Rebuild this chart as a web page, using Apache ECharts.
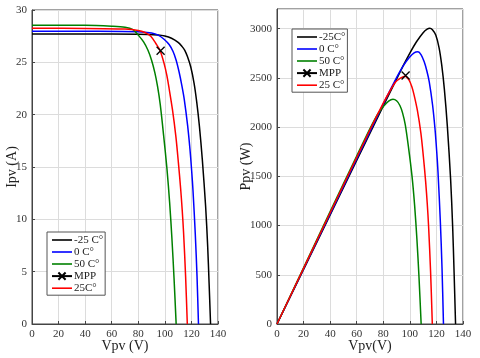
<!DOCTYPE html>
<html>
<head>
<meta charset="utf-8">
<script src="https://cdn.jsdelivr.net/npm/echarts@6/dist/echarts.min.js"></script>
<style>
    html, body { margin: 0; padding: 0; background: #fff; }
    #chart { width: 480px; height: 358px; }
</style>
</head>
<body>
<div id="chart"></div>
<script>
    //readings, volts / amps / watts

    //-25 C
    var voltM25 = [0, 40, 80, 95, 100, 105, 110, 113, 115, 117, 119.5, 122, 124, 126, 128.2, 130.7, 132.2, 133.3, 134.4];
    var currM25 = [27.7, 27.7, 27.69, 27.62, 27.52, 27.3, 26.9, 26.5, 26.15, 25.55, 24.55, 23.0, 21.2, 18.9, 15.7, 11.2, 7.5, 3.9, 0];
    var powM25 = [0, 1108, 2215, 2624, 2752, 2867, 2959, 2995, 3005, 2990, 2935, 2806, 2629, 2381, 2013, 1464, 992, 520, 0];

    //0 C
    var volt0 = [0, 40, 80, 90, 95, 99.4, 103.2, 106.1, 108.5, 110.8, 112.8, 114.6, 117.1, 118.9, 120.2, 121.2, 122.9, 124.2, 125.3];
    var curr0 = [27.98, 27.97, 27.93, 27.8, 27.6, 27.2, 26.7, 26.06, 25.2, 24.03, 22.78, 21.47, 19.0, 16.7, 14.6, 12.7, 8.6, 4.6, 0];
    var pow0 = [0, 1119, 2234, 2502, 2622, 2704, 2755, 2765, 2735, 2663, 2570, 2460, 2225, 1986, 1755, 1539, 1057, 571, 0];

    //50 C
    var volt50 = [0, 40, 60, 70, 76, 80, 84, 87.3, 90, 92.5, 94.5, 96.5, 99, 101.6, 103.6, 105.3, 106.9, 108.5];
    var curr50 = [28.55, 28.54, 28.45, 28.35, 28.12, 27.6, 26.95, 26.15, 25.2, 24.0, 22.7, 21.0, 18.1, 14.8, 11.6, 8.2, 4.4, 0];
    var pow50 = [0, 1142, 1707, 1985, 2137, 2208, 2264, 2283, 2268, 2220, 2145, 2027, 1792, 1504, 1202, 863, 470, 0];

    //25 C
    var volt25 = [0, 40, 70, 80, 85, 89.4, 93.2, 96.3, 99.4, 101.5, 103.2, 105.7, 108.3, 110.2, 111.9, 113.1, 114.1, 115.6, 116.9];
    var curr25 = [28.25, 28.24, 28.18, 28.05, 27.85, 27.5, 26.8, 26.15, 24.9, 23.75, 22.5, 20.5, 17.9, 15.4, 12.9, 10.8, 8.7, 4.6, 0];
    var pow25 = [0, 1130, 1973, 2244, 2367, 2460, 2500, 2518, 2477, 2410, 2325, 2167, 1939, 1697, 1444, 1221, 993, 532, 0];

    //maximum power point of the 25 C curve
    var mppVolt = [96.8];
    var mppCurr = [26.1];
    var mppPow = [2525];

    var leftNames = ['-25 C°', '0 C°', '50 C°', 'MPP', '25C°'];
    var rightNames = ['-25C°', '0 C°', '50 C°', 'MPP', '25 C°'];
    var colors = ['#000000', '#0000ff', '#008000', '#000000', '#ff0000'];

    var xTicks = { min: 0, max: 140, interval: 20 };
    var iTicks = { min: 0, max: 30, interval: 5 };
    var pTicks = { min: 0, max: 3200, interval: 500 };

    (function () {
        'use strict';

        var serif = 'Liberation Serif';
        var crossPath = 'path://M0,0L10,10M10,0L0,10';
        //thin bar used as the legend icon of the plain curves
        var barIcon = 'path://M0,0L20,0L20,1.6L0,1.6Z';

        function zip(xs, ys) {
            var out = [];
            for (var k = 0; k < xs.length; k++) {
                out.push([xs[k], ys[k]]);
            }
            return out;
        }

        function valueAxis(ticks, gridIndex, name, nameGap) {
            return {
                type: 'value',
                gridIndex: gridIndex,
                min: ticks.min,
                max: ticks.max,
                interval: ticks.interval,
                name: name,
                nameLocation: 'middle',
                nameGap: nameGap,
                nameMoveOverlap: false,
                nameTextStyle: { fontFamily: serif, fontSize: 14, color: '#222' },
                axisLine: { show: true, onZero: false, lineStyle: { color: '#444', width: 1 } },
                axisTick: { show: true, inside: true, length: 3, lineStyle: { color: '#444' } },
                axisLabel: {
                    fontFamily: serif, fontSize: 11, color: '#333', margin: 5,
                    showMaxLabel: ticks.max % ticks.interval === 0,
                    formatter: function (v) { return String(v); }
                },
                splitLine: { show: true, lineStyle: { color: '#dcdcdc', width: 1 } }
            };
        }

        function curve(name, data, color, xi, yi) {
            return {
                type: 'line',
                name: name,
                xAxisIndex: xi,
                yAxisIndex: yi,
                data: data,
                symbol: 'none',
                smooth: 0.3,
                lineStyle: { color: color, width: 1.5 },
                itemStyle: { color: color },
                z: 3
            };
        }

        function mppSeries(name, data, xi, yi) {
            return {
                type: 'line',
                name: name,
                xAxisIndex: xi,
                yAxisIndex: yi,
                data: data,
                symbol: crossPath,
                symbolSize: 8,
                showSymbol: true,
                lineStyle: { color: '#000', width: 1.5 },
                itemStyle: { color: 'none', borderColor: '#000', borderWidth: 1.3 },
                z: 4
            };
        }

        function legendBox(names, left, top) {
            var items = names.map(function (n) {
                return n === 'MPP' ? { name: n } : { name: n, icon: barIcon };
            });
            return {
                data: items,
                orient: 'vertical',
                left: left,
                top: top,
                itemWidth: 20,
                itemHeight: 9,
                itemGap: 0,
                padding: [2, 2, 1, 4],
                backgroundColor: '#fff',
                borderColor: '#555',
                borderWidth: 1,
                borderRadius: 0,
                selectedMode: false,
                textStyle: { fontFamily: serif, fontSize: 11, color: '#222', lineHeight: 12, padding: [0, 0, 0, -3] }
            };
        }

        var chart = echarts.init(document.getElementById('chart'), null, { renderer: 'canvas' });

        var option = {
            animation: false,
            backgroundColor: '#ffffff',
            grid: [
                { left: 32, right: 262, top: 10, bottom: 34, outerBoundsMode: 'none', show: true, borderColor: '#444', borderWidth: 1, backgroundColor: 'transparent' },
                { left: 277, right: 17, top: 9, bottom: 34, outerBoundsMode: 'none', show: true, borderColor: '#444', borderWidth: 1, backgroundColor: 'transparent' }
            ],
            xAxis: [
                valueAxis(xTicks, 0, 'Vpv (V)', 15),
                valueAxis(xTicks, 1, 'Vpv(V)', 15)
            ],
            yAxis: [
                valueAxis(iTicks, 0, 'Ipv (A)', 13),
                valueAxis(pTicks, 1, 'Ppv (W)', 24)
            ],
            legend: [
                legendBox(leftNames, 47, 232),
                legendBox(rightNames, 292, 29)
            ],
            series: [
                //I-V
                curve(leftNames[0], zip(voltM25, currM25), colors[0], 0, 0),
                curve(leftNames[1], zip(volt0, curr0), colors[1], 0, 0),
                curve(leftNames[2], zip(volt50, curr50), colors[2], 0, 0),
                mppSeries(leftNames[3], zip(mppVolt, mppCurr), 0, 0),
                curve(leftNames[4], zip(volt25, curr25), colors[4], 0, 0),
                //P-V
                curve(rightNames[0], zip(voltM25, powM25), colors[0], 1, 1),
                curve(rightNames[1], zip(volt0, pow0), colors[1], 1, 1),
                curve(rightNames[2], zip(volt50, pow50), colors[2], 1, 1),
                mppSeries(rightNames[3], zip(mppVolt, mppPow), 1, 1),
                curve(rightNames[4], zip(volt25, pow25), colors[4], 1, 1)
            ]
        };

        chart.setOption(option);
    })();
</script>
</body>
</html>
